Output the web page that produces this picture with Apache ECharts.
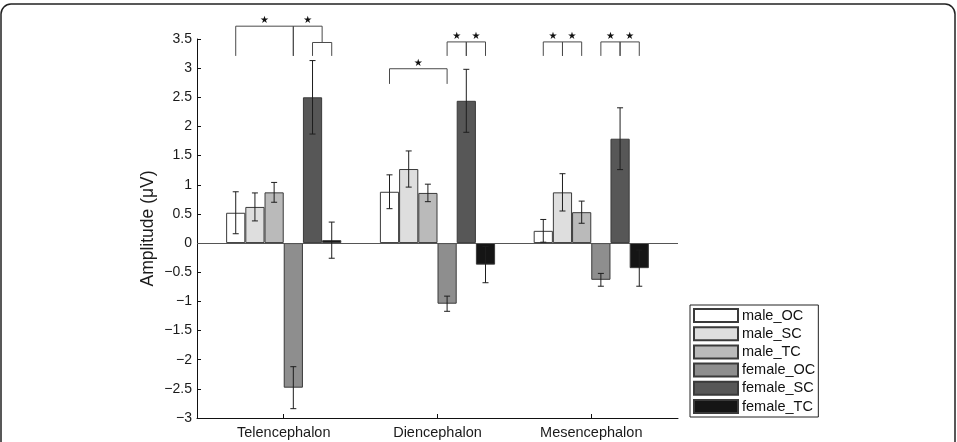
<!DOCTYPE html>
<html><head><meta charset="utf-8">
<script src="https://cdn.jsdelivr.net/npm/echarts@6/dist/echarts.min.js"></script>
<style>html,body{margin:0;padding:0;background:#fff}#c{width:957px;height:442px}</style>
</head><body><div id="c"></div>
<script>
// ---- data ----
const categories = ['Telencephalon', 'Diencephalon', 'Mesencephalon'];
const categoryPos = [1, 2, 3];
const seriesNames = ['male_OC', 'male_SC', 'male_TC', 'female_OC', 'female_SC', 'female_TC'];
const male_OC   = [0.52, 0.88, 0.21];
const male_SC   = [0.62, 1.27, 0.87];
const male_TC   = [0.87, 0.86, 0.53];
const female_OC = [-2.48, -1.04, -0.63];
const female_SC = [2.50, 2.44, 1.79];
const female_TC = [0.05, -0.37, -0.43];
const err_male_OC   = [0.36, 0.29, 0.195];
const err_male_SC   = [0.24, 0.31, 0.32];
const err_male_TC   = [0.17, 0.15, 0.19];
const err_female_OC = [0.36, 0.13, 0.11];
const err_female_SC = [0.63, 0.54, 0.53];
const err_female_TC = [0.31, 0.31, 0.31];
const yMin = -3, yMax = 3.5, yStep = 0.5;
// significance brackets: [category position, left bar index, right bar index, top y, left leg end y, right leg end y, star]
const brackets = [
  [1, 0, 3,   3.72, 3.21, 3.21, 1],
  [1, 3, 4.5, 3.72, 3.21, 3.44, 1],
  [1, 4, 5,   3.44, 3.21, 3.21, 0],
  [2, 0, 3,   2.99, 2.73, 2.73, 1],
  [2, 3, 4,   3.45, 3.21, 3.21, 1],
  [2, 4, 5,   3.45, 3.21, 3.21, 1],
  [3, 0, 1,   3.45, 3.21, 3.21, 1],
  [3, 1, 2,   3.45, 3.21, 3.21, 1],
  [3, 3, 4,   3.45, 3.21, 3.21, 1],
  [3, 4, 5,   3.45, 3.21, 3.21, 1]
];

// ---- chart ----
const values = [male_OC, male_SC, male_TC, female_OC, female_SC, female_TC];
const errors = [err_male_OC, err_male_SC, err_male_TC, err_female_OC, err_female_SC, err_female_TC];
const colors = ['#ffffff', '#dedede', '#bababa', '#8e8e8e', '#575757', '#151515'];
const FONT = '"Liberation Sans", Arial, Helvetica, sans-serif';
const BAR_W = 19.2;

const barSeries = seriesNames.map((name, s) => ({
  name: name,
  type: 'bar',
  barWidth: BAR_W,
  barGap: '0%',
  data: categoryPos.map((p, i) => [p, values[s][i]]),
  itemStyle: { color: colors[s], borderColor: '#3a3a3a', borderWidth: 1 },
  z: 2,
  markLine: s === 0 ? {
    silent: true, symbol: 'none', label: { show: false },
    lineStyle: { color: '#555', width: 1, type: 'solid' },
    data: [{ yAxis: 0 }]
  } : undefined
}));

const errData = [];
seriesNames.forEach((n, s) => categoryPos.forEach((p, i) => errData.push([p, s, values[s][i], errors[s][i]])));

const errSeries = {
  type: 'custom',
  z: 5,
  silent: true,
  encode: { x: 0, y: 2 },
  data: errData,
  renderItem: function (params, api) {
    const p = api.value(0), s = api.value(1), m = api.value(2), e = api.value(3);
    const c = api.coord([p, m]);
    const x = c[0] + (s - 2.5) * BAR_W;
    const yt = api.coord([p, m + e])[1];
    const yb = api.coord([p, m - e])[1];
    const st = { stroke: '#1e1e1e', lineWidth: 1 };
    return { type: 'group', children: [
      { type: 'line', shape: { x1: x, y1: yt, x2: x, y2: yb }, style: st },
      { type: 'line', shape: { x1: x - 3, y1: yt, x2: x + 3, y2: yt }, style: st },
      { type: 'line', shape: { x1: x - 3, y1: yb, x2: x + 3, y2: yb }, style: st }
    ]};
  }
};

const bracketSeries = {
  type: 'custom',
  z: 5,
  silent: true,
  encode: { x: 0, y: 3 },
  data: brackets,
  clip: false,
  renderItem: function (params, api) {
    const p = api.value(0), i0 = api.value(1), i1 = api.value(2);
    const yt = api.coord([p, api.value(3)])[1];
    const ybl = api.coord([p, api.value(4)])[1];
    const ybr = api.coord([p, api.value(5)])[1];
    const cx = api.coord([p, 0])[0];
    const x0 = cx + (i0 - 2.5) * BAR_W, x1 = cx + (i1 - 2.5) * BAR_W;
    const st = { stroke: '#4a4a4a', lineWidth: 1, fill: null };
    const ch = [
      { type: 'polyline', shape: { points: [[x0, ybl], [x0, yt], [x1, yt], [x1, ybr]] }, style: st }
    ];
    if (api.value(6)) {
      ch.push({ type: 'text', style: { text: '★', x: (x0 + x1) / 2, y: yt - 0.5, align: 'center', verticalAlign: 'bottom', fill: '#111', font: '10px "DejaVu Sans"' } });
    }
    return { type: 'group', children: ch };
  }
};

const chart = echarts.init(document.getElementById('c'), null, { renderer: 'canvas' });
chart.setOption({
  animation: false,
  backgroundColor: '#ffffff',
  textStyle: { fontFamily: FONT },
  graphic: [{
    type: 'rect', shape: { x: 1, y: 4, width: 954, height: 520, r: 10 },
    style: { fill: null, stroke: '#222', lineWidth: 1.5 }, silent: true, z: 0
  }],
  grid: { left: 197, right: 279, top: 39, bottom: 24, containLabel: false },
  legend: {
    orient: 'vertical', left: 690, top: 305,
    data: seriesNames, icon: 'rect',
    itemWidth: 44, itemHeight: 13, itemGap: 3.2,
    padding: [3, 3, 3, 3],
    borderColor: '#222', borderWidth: 1,
    selectedMode: false,
    textStyle: { fontSize: 14.5, color: '#111', fontFamily: FONT, padding: [0, 0, 0, -1] }
  },
  xAxis: {
    type: 'value', min: 0.436, max: 3.564,
    splitLine: { show: false },
    axisLine: { show: true, onZero: false, lineStyle: { color: '#111', width: 1 } },
    axisTick: { show: true, inside: true, length: 4, customValues: categoryPos, lineStyle: { color: '#111' } },
    axisLabel: {
      customValues: categoryPos, margin: 7, fontSize: 14.5, color: '#1a1a1a', fontFamily: FONT,
      formatter: v => categories[categoryPos.indexOf(Math.round(v))] || ''
    }
  },
  yAxis: {
    type: 'value', min: yMin, max: yMax, interval: yStep,
    name: 'Amplitude (μV)', nameLocation: 'middle', nameGap: 40, nameMoveOverlap: false,
    nameTextStyle: { fontSize: 17.5, color: '#1a1a1a', fontFamily: FONT },
    splitLine: { show: false },
    axisLine: { show: true, onZero: false, lineStyle: { color: '#111', width: 1 } },
    axisTick: { show: true, inside: true, length: 4, lineStyle: { color: '#111' } },
    axisLabel: { margin: 5, fontSize: 14, color: '#1a1a1a', fontFamily: FONT, formatter: v => String(v).replace('-', '\u2212') }
  },
  series: barSeries.concat([errSeries, bracketSeries])
});
</script>
</body></html>
